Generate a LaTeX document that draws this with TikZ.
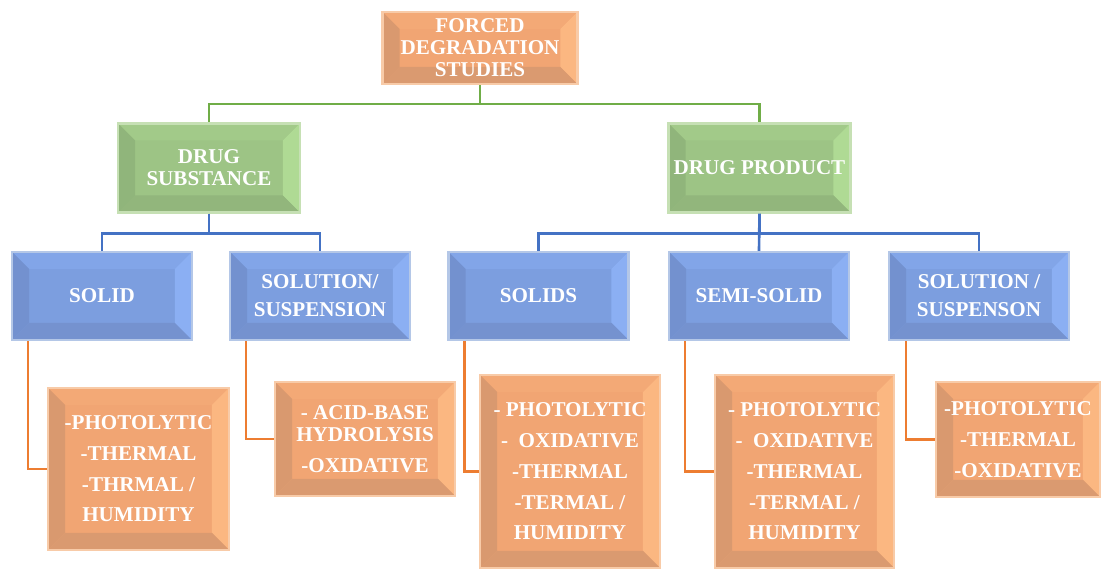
\documentclass[tikz,border=0pt]{standalone}
\usepackage{fontspec}
\setmainfont{Liberation Serif}
\usepackage{tikz}
\usetikzlibrary{positioning}

\definecolor{orfill}{HTML}{F1A573}
\definecolor{orline}{HTML}{F8CBA8}
\definecolor{ortop}{HTML}{F3A976}
\definecolor{orleft}{HTML}{D9996F}
\definecolor{orright}{HTML}{FBB781}
\definecolor{orbot}{HTML}{DA9A70}
\definecolor{grfill}{HTML}{9DC485}
\definecolor{grline}{HTML}{C6E0B4}
\definecolor{grtop}{HTML}{A2CA89}
\definecolor{grleft}{HTML}{90B57B}
\definecolor{grright}{HTML}{AFDA94}
\definecolor{grbot}{HTML}{92B67C}
\definecolor{blfill}{HTML}{7C9EDF}
\definecolor{blline}{HTML}{B4C7E7}
\definecolor{bltop}{HTML}{82A5E8}
\definecolor{blleft}{HTML}{7391CF}
\definecolor{blright}{HTML}{8BAFF3}
\definecolor{blbot}{HTML}{7592CF}
\definecolor{gconn}{HTML}{70AD47}
\definecolor{bconn}{HTML}{4472C4}
\definecolor{oconn}{HTML}{ED7D31}

\begin{document}
\begin{tikzpicture}[x=0.02cm, y=-0.02cm,
    bevel/.style n args={6}{draw=#2, line width=1.2pt, fill=#1, path picture={
        \fill[#3] (path picture bounding box.north west) -- (path picture bounding box.north east)
            -- ([shift={(-0.34cm,-0.34cm)}]path picture bounding box.north east)
            -- ([shift={(0.34cm,-0.34cm)}]path picture bounding box.north west) -- cycle;
        \fill[#4] (path picture bounding box.north west) -- (path picture bounding box.south west)
            -- ([shift={(0.34cm,0.34cm)}]path picture bounding box.south west)
            -- ([shift={(0.34cm,-0.34cm)}]path picture bounding box.north west) -- cycle;
        \fill[#5] (path picture bounding box.north east) -- (path picture bounding box.south east)
            -- ([shift={(-0.34cm,0.34cm)}]path picture bounding box.south east)
            -- ([shift={(-0.34cm,-0.34cm)}]path picture bounding box.north east) -- cycle;
        \fill[#6] (path picture bounding box.south west) -- (path picture bounding box.south east)
            -- ([shift={(-0.34cm,0.34cm)}]path picture bounding box.south east)
            -- ([shift={(0.34cm,0.34cm)}]path picture bounding box.south west) -- cycle;
    }},
    obox/.style={bevel={orfill}{orline}{ortop}{orleft}{orright}{orbot}, text=white, align=center, inner sep=0pt,
        font=\bfseries\fontsize{12}{17.5}\selectfont},
    gbox/.style={bevel={grfill}{grline}{grtop}{grleft}{grright}{grbot}, text=white, align=center, inner sep=0pt,
        font=\bfseries\fontsize{12}{12.5}\selectfont, minimum width=3.64cm, minimum height=1.78cm},
    bbox/.style={bevel={blfill}{blline}{bltop}{blleft}{blright}{blbot}, text=white, align=center, inner sep=0pt,
        font=\bfseries\fontsize{12}{16}\selectfont, minimum width=3.6cm, minimum height=1.76cm},
    gline/.style={gconn, line width=1.2pt},
    bline/.style={bconn, line width=1.5pt},
    oline/.style={oconn, line width=1.5pt}]

    \useasboundingbox (0,0) rectangle (1103,570);

    % top
    \node[obox, minimum width=3.9cm, minimum height=1.44cm, font=\bfseries\fontsize{12}{12.5}\selectfont] (fds) at (480,48) {FORCED\\DEGRADATION\\STUDIES};

    % second row
    \node[gbox] (ds) at (209,168) {DRUG\\SUBSTANCE};
    \node[gbox] (dp) at (759.5,168) {DRUG PRODUCT};

    % third row
    \node[bbox] (solid) at (102,296) {SOLID};
    \node[bbox] (solsus) at (320,296) {SOLUTION/\\SUSPENSION};
    \node[bbox] (solids) at (538.5,296) {SOLIDS};
    \node[bbox] (semi) at (759,296) {SEMI-SOLID};
    \node[bbox] (solsusp) at (979,296) {SOLUTION /\\SUSPENSON};

    % conditions
    \node[obox, minimum width=3.62cm, minimum height=3.24cm] (condsolid) at (138.5,469) {-PHOTOLYTIC\\-THERMAL\\-THRMAL /\\HUMIDITY};
    \node[obox, minimum width=3.6cm, minimum height=2.28cm] (condsol) at (365,439) {- ACID-BASE\\[-4.5pt]HYDROLYSIS\\-OXIDATIVE};
    \node[obox, minimum width=3.6cm, minimum height=3.86cm] (condsolids) at (570,471.5) {- PHOTOLYTIC\\-\ \ OXIDATIVE\\-THERMAL\\-TERMAL /\\HUMIDITY};
    \node[obox, minimum width=3.58cm, minimum height=3.86cm] (condsemi) at (804.5,471.5) {- PHOTOLYTIC\\-\ \ OXIDATIVE\\-THERMAL\\-TERMAL /\\HUMIDITY};
    \node[obox, minimum width=3.28cm, minimum height=2.3cm] (condsusp) at (1018,439.5) {-PHOTOLYTIC\\-THERMAL\\-OXIDATIVE};

    % connectors
    \draw[gline] (fds.south) -- ++(0,19) -| (ds.north);
    \draw[gline] (fds.south) -- ++(0,19) -| (dp.north);

    \draw[bline] (ds.south) -- ++(0,20) -| (solid.north);
    \draw[bline] (ds.south) -- ++(0,20) -| (solsus.north);
    \draw[bline] (dp.south) -- ++(0,20) -| (solids.north);
    \draw[bline] (dp.south) -- (semi.north);
    \draw[bline] (dp.south) -- ++(0,20) -| (solsusp.north);

    \draw[oline] ([xshift=0.34cm]solid.south west) |- (condsolid.west);
    \draw[oline] ([xshift=0.34cm]solsus.south west) |- (condsol.west);
    \draw[oline] ([xshift=0.34cm]solids.south west) |- (condsolids.west);
    \draw[oline] ([xshift=0.34cm]semi.south west) |- (condsemi.west);
    \draw[oline] ([xshift=0.36cm]solsusp.south west) |- (condsusp.west);
\end{tikzpicture}
\end{document}
